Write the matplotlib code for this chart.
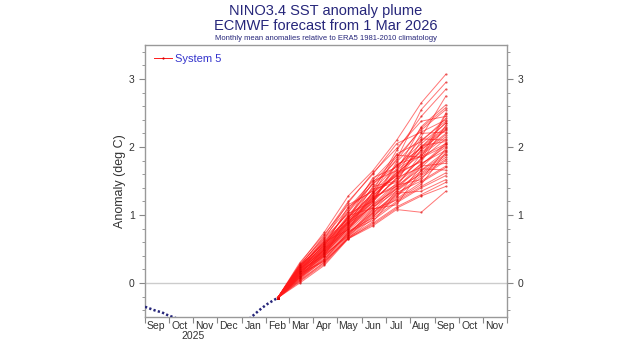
import matplotlib
matplotlib.use("Agg")
import matplotlib.pyplot as plt
import matplotlib.dates as mdates
from matplotlib.ticker import MultipleLocator
import numpy as np
import datetime as dt

plt.rcParams['font.family'] = ['Liberation Sans', 'DejaVu Sans']

# observed weekly NINO3.4 anomaly (deg C)
obs_dates = ["2025-09-01", "2025-09-08", "2025-09-15", "2025-09-22", "2025-09-29",
             "2025-10-06", "2025-10-13", "2025-10-20", "2025-10-27", "2025-11-03",
             "2025-11-10", "2025-11-17", "2025-11-24", "2025-12-01", "2025-12-08",
             "2025-12-15", "2025-12-22", "2025-12-29", "2026-01-05", "2026-01-12",
             "2026-01-19", "2026-01-26", "2026-02-02", "2026-02-09", "2026-02-15"]
obs_vals = [-0.35, -0.38, -0.41, -0.43, -0.47, -0.50, -0.53, -0.56, -0.60, -0.65,
            -0.68, -0.70, -0.72, -0.73, -0.72, -0.70, -0.67, -0.62, -0.57, -0.51,
            -0.44, -0.37, -0.31, -0.26, -0.22]

# forecast months (monthly means, plotted mid-month), 51 ensemble members
fc_dates = ["2026-03-15", "2026-04-15", "2026-05-15", "2026-06-15",
            "2026-07-15", "2026-08-15", "2026-09-15"]
fc_mar = [0.28, 0.25, 0.30, 0.22, 0.26, 0.20, 0.24, 0.18, 0.27, 0.21, 0.15, 0.23, 0.19,
          0.12, 0.25, 0.17, 0.14, 0.22, 0.10, 0.20, 0.16, 0.13, 0.24, 0.11, 0.18, 0.09,
          0.21, 0.14, 0.26, 0.08, 0.19, 0.12, 0.23, 0.07, 0.16, 0.10, 0.20, 0.06, 0.15,
          0.09, 0.17, 0.05, 0.13, 0.08, 0.18, 0.04, 0.11, 0.03, 0.14, 0.02, 0.00]
fc_apr = [0.75, 0.70, 0.72, 0.65, 0.68, 0.62, 0.60, 0.58, 0.66, 0.55, 0.52, 0.63, 0.57,
          0.50, 0.59, 0.54, 0.48, 0.56, 0.46, 0.53, 0.51, 0.49, 0.61, 0.45, 0.50, 0.44,
          0.52, 0.47, 0.58, 0.42, 0.49, 0.43, 0.55, 0.40, 0.46, 0.41, 0.48, 0.38, 0.44,
          0.36, 0.42, 0.35, 0.39, 0.33, 0.40, 0.31, 0.34, 0.30, 0.32, 0.28, 0.26]
fc_may = [1.28, 1.20, 1.15, 1.18, 1.10, 0.94, 1.05, 1.08, 1.02, 1.00, 0.98, 1.04, 0.95,
          0.92, 0.97, 1.12, 0.90, 0.96, 0.88, 0.93, 0.89, 0.86, 0.78, 0.84, 0.87, 0.85,
          0.91, 0.82, 0.90, 0.80, 0.83, 0.81, 0.88, 0.99, 0.79, 0.76, 0.80, 0.74, 0.77,
          0.72, 0.69, 0.70, 0.73, 0.68, 0.71, 0.66, 0.75, 0.67, 0.65, 0.66, 0.65]
fc_jun = [1.65, 1.60, 1.35, 1.62, 1.50, 1.48, 1.52, 1.45, 1.20, 1.40, 1.38, 1.46, 1.55,
          1.33, 1.30, 1.36, 1.28, 1.32, 1.23, 1.29, 1.26, 1.24, 1.34, 1.22, 1.42, 1.27,
          1.18, 1.21, 1.25, 1.16, 1.14, 1.19, 1.12, 1.10, 1.15, 0.96, 1.11, 1.06, 1.09,
          1.04, 1.02, 1.00, 1.03, 0.98, 1.08, 0.95, 0.92, 0.90, 0.88, 0.86, 0.84]
fc_jul = [2.10, 2.05, 1.95, 1.98, 1.65, 1.85, 1.88, 1.80, 1.78, 1.82, 1.48, 1.72, 1.70,
          1.68, 1.90, 1.73, 1.62, 1.60, 1.66, 1.58, 1.42, 1.63, 1.57, 1.52, 1.50, 1.59,
          1.75, 1.54, 1.45, 1.47, 1.44, 1.55, 1.40, 1.43, 1.38, 1.36, 1.35, 1.39, 1.15,
          1.30, 1.28, 1.26, 1.33, 1.24, 1.22, 1.20, 1.18, 1.32, 1.12, 1.10, 1.08]
fc_aug = [2.65, 2.22, 2.45, 2.38, 2.30, 2.25, 1.85, 2.28, 2.15, 2.55, 2.10, 2.05, 2.12,
          2.00, 2.08, 1.98, 1.78, 1.95, 1.92, 2.00, 1.90, 1.88, 2.20, 1.96, 1.82, 1.80,
          1.86, 2.02, 1.84, 1.75, 1.52, 1.70, 1.76, 1.68, 1.73, 1.65, 1.62, 1.60, 1.66,
          1.58, 1.55, 1.72, 1.50, 1.48, 1.45, 1.42, 1.40, 1.35, 1.30, 1.28, 1.04]
fc_sep = [3.07, 2.40, 2.85, 2.45, 2.62, 2.55, 2.50, 2.58, 2.75, 2.95, 2.38, 2.35, 2.10,
          2.30, 2.42, 2.28, 2.32, 2.25, 2.20, 2.36, 2.18, 2.15, 2.22, 2.26, 2.12, 2.48,
          2.05, 2.08, 2.02, 2.00, 1.98, 2.04, 1.95, 1.66, 2.06, 1.90, 1.88, 1.85, 1.94,
          1.82, 1.80, 1.76, 1.72, 1.70, 1.92, 1.62, 1.58, 1.52, 1.48, 1.42, 1.35]

month_labels = ["Sep", "Oct", "Nov", "Dec", "Jan", "Feb", "Mar", "Apr", "May", "Jun",
                "Jul", "Aug", "Sep", "Oct", "Nov"]

navy = "#26267a"
fc_red = "#ff1a1a"

fig = plt.figure(figsize=(6.4, 3.51), dpi=100)
ax = fig.add_axes([0.2266, 0.0969, 0.5656, 0.7749])

obs_t = [dt.datetime.strptime(d, "%Y-%m-%d") for d in obs_dates]
fc_t = [obs_t[-1]] + [dt.datetime.strptime(d, "%Y-%m-%d") for d in fc_dates]
members = np.array([fc_mar, fc_apr, fc_may, fc_jun, fc_jul, fc_aug, fc_sep]).T

ax.axhline(0, color="#cccccc", lw=1.0, zorder=1)

for k, m in enumerate(members):
    ax.plot(fc_t, [obs_vals[-1]] + list(m), color=fc_red, lw=0.7, alpha=0.6,
            marker="o", ms=1.6, mec="none", mfc="#d80000",
            label="System 5" if k == 0 else None, zorder=2)

ax.plot(obs_t, obs_vals, color=navy, lw=1.8, linestyle=(0, (0.9, 0.9)), zorder=3)

ax.set_xlim(dt.datetime(2025, 9, 1), dt.datetime(2026, 12, 1))
ax.set_ylim(-0.5, 3.5)

# month boundaries as ticks, month names centred in each month
ax.xaxis.set_major_locator(mdates.MonthLocator())
ax.xaxis.set_major_formatter(plt.NullFormatter())
ax.xaxis.set_minor_locator(mdates.MonthLocator(bymonthday=15))
ax.set_xticks(ax.xaxis.get_minorticklocs(), month_labels, minor=True)
ax.tick_params(axis="x", which="minor", length=0, labelsize=7.5, labelcolor="#333333", pad=3)
ax.tick_params(axis="x", which="major", direction="out", length=4, color="#888888")
ax.annotate("2025", xy=(mdates.date2num(dt.datetime(2025, 11, 1)), 0),
            xycoords=("data", "axes fraction"), xytext=(0, -13.5),
            textcoords="offset points", ha="center", va="center",
            fontsize=7.5, color="#333333")

ax.yaxis.set_major_locator(MultipleLocator(1))
ax.yaxis.set_minor_locator(MultipleLocator(0.2))
ax.tick_params(axis="y", which="both", direction="out", right=True, labelright=True,
               labelsize=7.5, labelcolor="#333333", color="#888888")
ax.tick_params(axis="y", which="major", length=4)
ax.tick_params(axis="y", which="minor", length=2)

for s in ax.spines.values():
    s.set_color("#999999")
    s.set_linewidth(1.0)

ax.set_ylabel("Anomaly (deg C)", fontsize=9, color="#333333", labelpad=2)

leg = ax.legend(loc="upper left", frameon=False, fontsize=8, labelcolor="#3333cc",
                handlelength=1.6, handletextpad=0.3, borderaxespad=0.4)
for h in leg.legend_handles:
    h.set_alpha(1.0)

cx = 0.2266 + 0.5656 / 2
fig.text(cx, 0.97, "NINO3.4 SST anomaly plume", ha="center", va="center",
         fontsize=10.5, color=navy)
fig.text(cx, 0.927, "ECMWF forecast from 1 Mar 2026", ha="center", va="center",
         fontsize=10.5, color=navy)
fig.text(cx, 0.89, "Monthly mean anomalies relative to ERA5 1981-2010 climatology",
         ha="center", va="center", fontsize=5.5, color=navy)

fig.savefig("out.png", dpi=100, facecolor="white")
